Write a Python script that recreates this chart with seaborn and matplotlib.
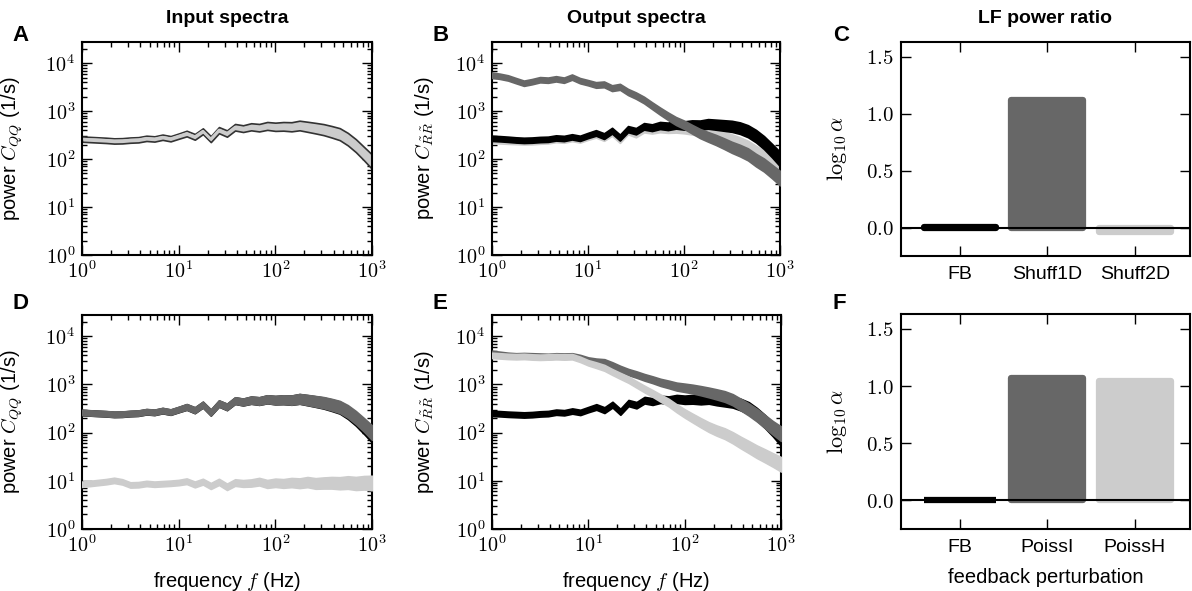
import numpy as np
import matplotlib
matplotlib.use('Agg')
import matplotlib.pyplot as plt
import matplotlib.ticker as mticker
import seaborn as sns

# frequency grid (Hz), 12 points per decade
freq = [1, 1.21, 1.47, 1.78, 2.15, 2.61, 3.16, 3.83, 4.64, 5.62, 6.81, 8.25,
        10, 12.1, 14.7, 17.8, 21.5, 26.1, 31.6, 38.3, 46.4, 56.2, 68.1, 82.5,
        100, 121, 147, 178, 215, 261, 316, 383, 464, 562, 681, 825, 1000]

# half-width of the noisy trace (decades)
band_dex = [0.055, 0.055, 0.055, 0.055, 0.055, 0.055, 0.055, 0.055, 0.055, 0.055, 0.055, 0.055,
            0.055, 0.058, 0.06, 0.06, 0.062, 0.064, 0.066, 0.068, 0.07, 0.074, 0.078, 0.082,
            0.086, 0.09, 0.095, 0.1, 0.105, 0.11, 0.115, 0.12, 0.125, 0.13, 0.135, 0.14, 0.15]

# input spectra
in_fb = [260, 255, 250, 245, 238, 240, 248, 252, 270, 262, 285, 265,
         300, 340, 290, 380, 260, 400, 340, 460, 430, 470, 450, 490,
         470, 480, 470, 500, 470, 440, 410, 370, 330, 260, 190, 130, 88]
in_poissI = [262, 256, 251, 246, 240, 242, 249, 254, 272, 264, 287, 267,
             302, 342, 292, 382, 262, 402, 342, 462, 432, 472, 452, 492,
             472, 482, 472, 502, 475, 445, 418, 380, 340, 275, 205, 145, 100]
in_poissH = [8.5, 8.8, 9.2, 9.6, 10.2, 9.5, 8.2, 8.3, 8.8, 8.5, 8.7, 8.9,
             9.2, 9.8, 8.4, 9.6, 7.8, 9.5, 7.5, 9.2, 8.8, 9.0, 9.6, 8.6,
             9.1, 8.8, 9.2, 8.9, 9.4, 8.8, 9.0, 9.1, 8.9, 9.2, 8.8, 9.1, 9.0]

# output spectra, top row
out_fb = [270, 265, 258, 250, 245, 248, 255, 258, 275, 268, 290, 270,
          310, 350, 300, 390, 280, 420, 380, 480, 450, 500, 480, 520,
          500, 520, 510, 540, 520, 500, 480, 440, 380, 300, 220, 150, 100]
out_shuff1d = [5600, 5300, 4900, 4300, 3800, 4100, 4500, 4400, 4700, 4400, 5100, 4300,
               3900, 3500, 3600, 3000, 3200, 2500, 2100, 1700, 1300, 1000, 780, 620,
               520, 420, 340, 290, 250, 210, 175, 150, 125, 95, 75, 55, 40]
out_shuff2d = [245, 240, 235, 232, 228, 230, 236, 240, 255, 248, 268, 250,
               285, 320, 275, 350, 250, 380, 330, 420, 400, 430, 420, 430,
               420, 400, 380, 350, 320, 290, 250, 215, 180, 140, 110, 80, 58]

# output spectra, bottom row
out2_fb = [250, 246, 240, 236, 232, 236, 244, 248, 265, 258, 280, 262,
           300, 340, 292, 380, 270, 410, 370, 470, 440, 490, 470, 500,
           480, 490, 480, 500, 470, 450, 430, 380, 320, 240, 170, 115, 75]
out2_poissI = [4400, 4200, 4000, 3900, 3950, 3900, 3850, 3800, 3900, 3850, 3900, 3600,
               3200, 3000, 2900, 2500, 2100, 1800, 1600, 1400, 1250, 1100, 1000, 900,
               850, 800, 740, 680, 620, 560, 480, 380, 300, 230, 170, 125, 95]
out2_poissH = [4000, 3900, 3800, 3750, 3800, 3700, 3650, 3700, 3750, 3700, 3750, 3300,
               2800, 2500, 2200, 1800, 1500, 1250, 1000, 800, 650, 520, 420, 320,
               250, 200, 160, 130, 110, 95, 78, 62, 50, 40, 33, 27, 22]

# LF power ratio
cats_top = ['FB', 'Shuff1D', 'Shuff2D']
ratio_top = [0.003, 1.12, -0.043]
cats_bot = ['FB', 'PoissI', 'PoissH']
ratio_bot = [0.003, 1.07, 1.042]

BLACK, DARK, LIGHT = '#000000', '#676767', '#cccccc'

sns.set_style('ticks')
plt.rcParams['font.family'] = ['Liberation Sans', 'DejaVu Sans']
plt.rcParams['mathtext.fontset'] = 'cm'
plt.rcParams['axes.linewidth'] = 1.5
for k in ['text.color', 'axes.labelcolor', 'xtick.color', 'ytick.color', 'axes.edgecolor']:
    plt.rcParams[k] = 'black'

fig = plt.figure(figsize=(11.92, 5.91), dpi=100)
W, H = 1192, 591


def add_ax(left, top, right, bottom):
    return fig.add_axes([left / W, 1 - bottom / H, (right - left) / W, (bottom - top) / H])


axA = add_ax(82, 42, 372, 255)
axB = add_ax(492, 42, 780, 255)
axC = add_ax(901, 42, 1190, 256)
axD = add_ax(82, 315, 372, 529)
axE = add_ax(492, 315, 781, 529)
axF = add_ax(901, 314, 1190, 529)

band = np.array(band_dex)
f_arr = np.array(freq, float)


def draw_spec(ax, vals, color, edge=None, z=2):
    v = np.array(vals, float)
    lo, hi = v / 10 ** band, v * 10 ** band
    ax.fill_between(f_arr, lo, hi, facecolor=color, edgecolor=edge or color,
                    lw=1.2, zorder=z)
    sns.lineplot(x=f_arr, y=v, color=color, lw=2, ax=ax, zorder=z + 0.1)


def log_fmt(v, pos):
    return r'$10^{%d}$' % int(round(np.log10(v)))


def style_spec(ax, ylab, xlab=None):
    ax.set_xscale('log')
    ax.set_yscale('log')
    ax.set_xlim(1, 1000)
    ax.set_ylim(1, 2.75e4)
    ax.xaxis.set_major_locator(mticker.LogLocator(base=10, numticks=10))
    ax.yaxis.set_major_locator(mticker.FixedLocator([1, 10, 100, 1000, 10000]))
    ax.xaxis.set_major_formatter(mticker.FuncFormatter(log_fmt))
    ax.yaxis.set_major_formatter(mticker.FuncFormatter(log_fmt))
    ax.xaxis.set_minor_locator(mticker.LogLocator(base=10, subs=np.arange(2, 10), numticks=20))
    ax.yaxis.set_minor_locator(mticker.LogLocator(base=10, subs=np.arange(2, 10), numticks=20))
    ax.xaxis.set_minor_formatter(mticker.NullFormatter())
    ax.yaxis.set_minor_formatter(mticker.NullFormatter())
    ax.tick_params(which='both', direction='in', top=True, right=True, labelsize=14.5, width=1)
    ax.tick_params(which='major', length=7)
    ax.tick_params(which='minor', length=3.5)
    ax.tick_params(axis='x', pad=4)
    ax.tick_params(axis='y', pad=5)
    ax.set_ylabel(ylab, fontsize=14.5)
    ax.yaxis.set_label_coords(-0.195, 0.5)
    if xlab:
        ax.set_xlabel(xlab, fontsize=14.5)
        ax.xaxis.set_label_coords(0.5, -0.19)
    else:
        ax.set_xlabel('')


def draw_bars(ax, cats, vals, xlab=None):
    sns.barplot(x=cats, y=vals, hue=cats, palette=[BLACK, DARK, LIGHT], width=0.82,
                saturation=1, legend=False, ax=ax, linewidth=4.5)
    for p in ax.patches:
        p.set_edgecolor(p.get_facecolor())
        p.set_joinstyle('round')
    ax.axhline(0, color='k', lw=1.5, zorder=5)
    ax.set_xlim(-0.67, 2.63)
    ax.set_ylim(-0.25, 1.63)
    ax.set_yticks([0, 0.5, 1.0, 1.5])
    ax.yaxis.set_major_formatter(mticker.FuncFormatter(lambda v, p: r'$%.1f$' % v))
    ax.tick_params(direction='in', top=True, right=True, length=7, width=1)
    ax.tick_params(axis='y', labelsize=15, pad=5)
    ax.tick_params(axis='x', labelsize=14, pad=7)
    ax.set_ylabel(r'$\log_{10}\alpha$', fontsize=16)
    ax.yaxis.set_label_coords(-0.18, 0.5)
    if xlab:
        ax.set_xlabel(xlab, fontsize=14.5)
        ax.xaxis.set_label_coords(0.5, -0.18)
    else:
        ax.set_xlabel('')


# A: input spectrum (feedback)
draw_spec(axA, in_fb, LIGHT, edge='#333333')
style_spec(axA, r'power $C_{QQ}$ (1/s)')

# B: output spectra
draw_spec(axB, out_shuff2d, LIGHT, z=2)
draw_spec(axB, out_fb, BLACK, z=3)
draw_spec(axB, out_shuff1d, DARK, z=4)
style_spec(axB, r'power $C_{\tilde{R}\tilde{R}}$ (1/s)')

# D: input spectra (Poisson)
draw_spec(axD, in_fb, BLACK, z=2)
draw_spec(axD, in_poissH, LIGHT, z=3)
draw_spec(axD, in_poissI, DARK, z=4)
style_spec(axD, r'power $C_{QQ}$ (1/s)', r'frequency $f$ (Hz)')

# E: output spectra (Poisson)
draw_spec(axE, out2_fb, BLACK, z=2)
draw_spec(axE, out2_poissI, DARK, z=3)
draw_spec(axE, out2_poissH, LIGHT, z=4)
style_spec(axE, r'power $C_{\tilde{R}\tilde{R}}$ (1/s)', r'frequency $f$ (Hz)')

draw_bars(axC, cats_top, ratio_top)
draw_bars(axF, cats_bot, ratio_bot, 'feedback perturbation')

for ax, t in [(axA, 'Input spectra'), (axB, 'Output spectra'), (axC, 'LF power ratio')]:
    ax.set_title(t, fontweight='bold', fontsize=14, pad=14)

for x, y, s in [(12, 25, 'A'), (432, 25, 'B'), (833, 25, 'C'),
                (12, 293, 'D'), (432, 293, 'E'), (833, 293, 'F')]:
    fig.text(x / W, 1 - y / H, s, ha='left', va='top', fontweight='bold', fontsize=16)

plt.savefig('out.png', dpi=100)
